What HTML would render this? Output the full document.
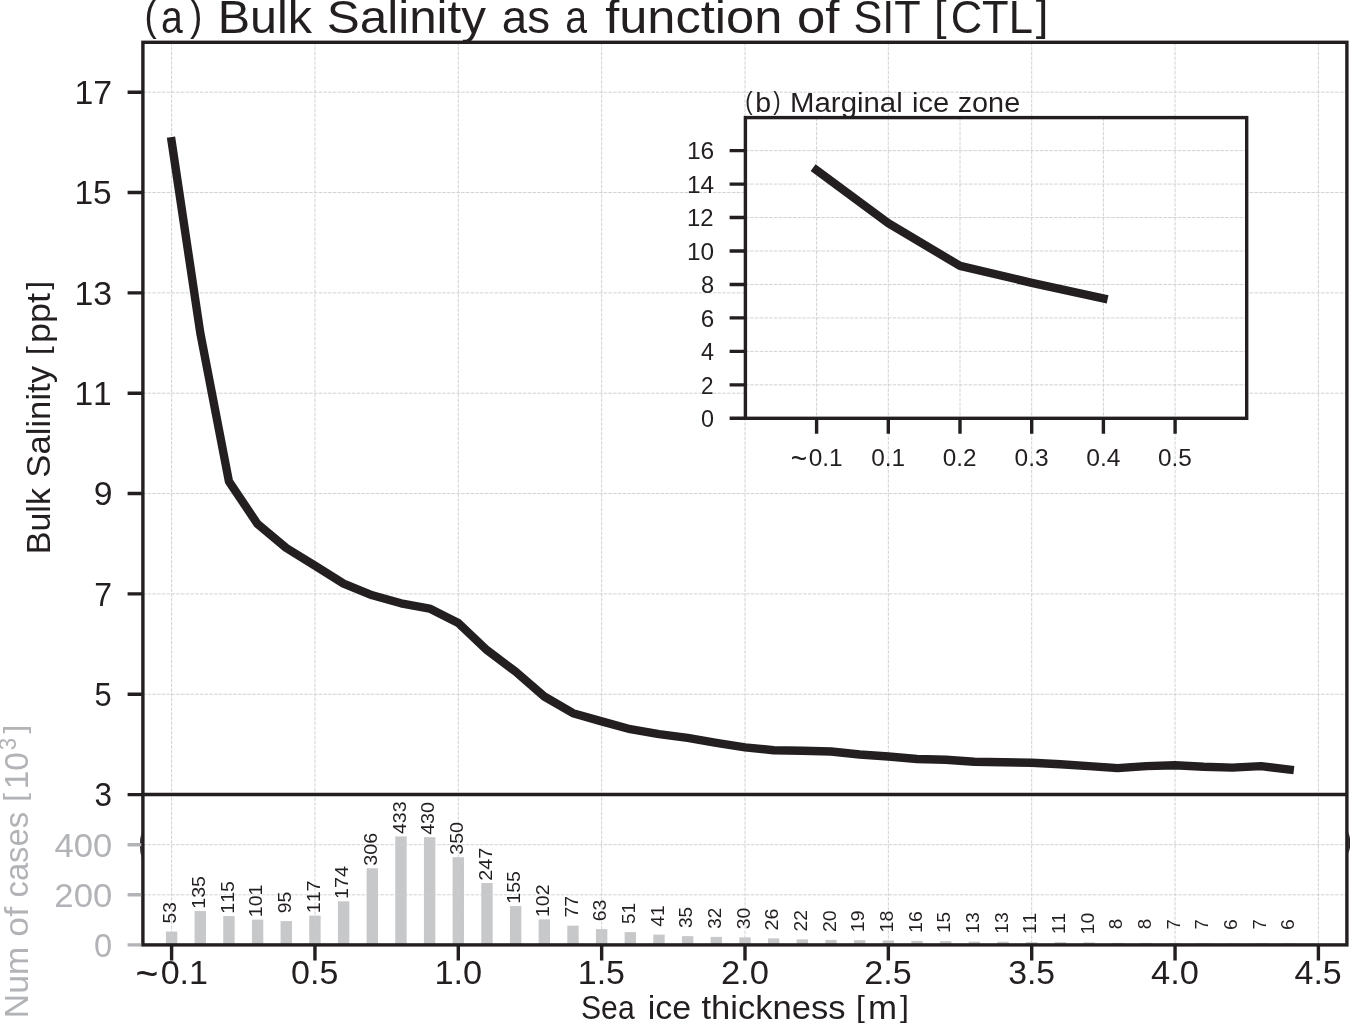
<!DOCTYPE html>
<html><head><meta charset="utf-8"><title>Bulk Salinity as a function of SIT</title>
<style>
html,body{margin:0;padding:0;background:#fff;}
body{width:1350px;height:1023px;overflow:hidden;font-family:"Liberation Sans",sans-serif;}
svg{display:block;will-change:transform;opacity:.999;}
svg text{font-family:"Liberation Sans",sans-serif;font-kerning:none;white-space:pre;}
</style></head><body>
<svg width="1350" height="1023" viewBox="0 0 1350 1023">
<rect x="0" y="0" width="1350" height="1023" fill="#fff"/>
<rect x="165.90" y="931.62" width="11.4" height="13.28" fill="#c7c8ca"/>
<rect x="194.57" y="911.08" width="11.4" height="33.82" fill="#c7c8ca"/>
<rect x="223.24" y="916.09" width="11.4" height="28.81" fill="#c7c8ca"/>
<rect x="251.91" y="919.60" width="11.4" height="25.30" fill="#c7c8ca"/>
<rect x="280.58" y="921.10" width="11.4" height="23.80" fill="#c7c8ca"/>
<rect x="309.25" y="915.59" width="11.4" height="29.31" fill="#c7c8ca"/>
<rect x="337.92" y="901.31" width="11.4" height="43.59" fill="#c7c8ca"/>
<rect x="366.59" y="868.25" width="11.4" height="76.65" fill="#c7c8ca"/>
<rect x="395.26" y="836.43" width="11.4" height="108.47" fill="#c7c8ca"/>
<rect x="423.93" y="837.18" width="11.4" height="107.72" fill="#c7c8ca"/>
<rect x="452.60" y="857.23" width="11.4" height="87.67" fill="#c7c8ca"/>
<rect x="481.27" y="883.03" width="11.4" height="61.87" fill="#c7c8ca"/>
<rect x="509.94" y="906.07" width="11.4" height="38.83" fill="#c7c8ca"/>
<rect x="538.61" y="919.35" width="11.4" height="25.55" fill="#c7c8ca"/>
<rect x="567.28" y="925.61" width="11.4" height="19.29" fill="#c7c8ca"/>
<rect x="595.95" y="929.12" width="11.4" height="15.78" fill="#c7c8ca"/>
<rect x="624.62" y="932.12" width="11.4" height="12.78" fill="#c7c8ca"/>
<rect x="653.29" y="934.63" width="11.4" height="10.27" fill="#c7c8ca"/>
<rect x="681.96" y="936.13" width="11.4" height="8.77" fill="#c7c8ca"/>
<rect x="710.63" y="936.88" width="11.4" height="8.02" fill="#c7c8ca"/>
<rect x="739.30" y="937.38" width="11.4" height="7.51" fill="#c7c8ca"/>
<rect x="767.97" y="938.39" width="11.4" height="6.51" fill="#c7c8ca"/>
<rect x="796.64" y="939.39" width="11.4" height="5.51" fill="#c7c8ca"/>
<rect x="825.31" y="939.89" width="11.4" height="5.01" fill="#c7c8ca"/>
<rect x="853.98" y="940.14" width="11.4" height="4.76" fill="#c7c8ca"/>
<rect x="882.65" y="940.39" width="11.4" height="4.51" fill="#c7c8ca"/>
<rect x="911.32" y="940.89" width="11.4" height="4.01" fill="#c7c8ca"/>
<rect x="939.99" y="941.14" width="11.4" height="3.76" fill="#c7c8ca"/>
<rect x="968.66" y="941.64" width="11.4" height="3.26" fill="#c7c8ca"/>
<rect x="997.33" y="941.64" width="11.4" height="3.26" fill="#c7c8ca"/>
<rect x="1026.00" y="942.14" width="11.4" height="2.76" fill="#c7c8ca"/>
<rect x="1054.67" y="942.14" width="11.4" height="2.76" fill="#c7c8ca"/>
<rect x="1083.34" y="942.39" width="11.4" height="2.50" fill="#c7c8ca"/>
<rect x="1112.01" y="942.90" width="11.4" height="2.00" fill="#c7c8ca"/>
<rect x="1140.68" y="942.90" width="11.4" height="2.00" fill="#c7c8ca"/>
<rect x="1169.35" y="943.15" width="11.4" height="1.75" fill="#c7c8ca"/>
<rect x="1198.02" y="943.15" width="11.4" height="1.75" fill="#c7c8ca"/>
<rect x="1226.69" y="943.40" width="11.4" height="1.50" fill="#c7c8ca"/>
<rect x="1255.36" y="943.15" width="11.4" height="1.75" fill="#c7c8ca"/>
<rect x="1284.03" y="943.40" width="11.4" height="1.50" fill="#c7c8ca"/>
<path d="M171.60 42.3 V944.9 M314.95 42.3 V944.9 M458.30 42.3 V944.9 M601.65 42.3 V944.9 M745.00 42.3 V944.9 M888.35 42.3 V944.9 M1031.70 42.3 V944.9 M1175.05 42.3 V944.9 M1318.40 42.3 V944.9 M142.9 92.20 H1346.9 M142.9 192.54 H1346.9 M142.9 292.88 H1346.9 M142.9 393.22 H1346.9 M142.9 493.56 H1346.9 M142.9 593.90 H1346.9 M142.9 694.24 H1346.9 M142.9 894.80 H1346.9 M142.9 844.70 H1346.9" stroke="#cccdd0" stroke-width="0.9" stroke-dasharray="3.5 1.25" fill="none"/>
<rect x="142.9" y="42.3" width="1204.0" height="902.6" fill="none" stroke="#231f20" stroke-width="3.4"/>
<path d="M142.9 794.5 H1346.9" stroke="#231f20" stroke-width="3.4" fill="none"/>
<path d="M141.6 832 Q138.2 845 141.6 858 Z" fill="#231f20"/>
<path d="M1348.2 832 Q1352.6 843 1348.2 853.5 Z" fill="#231f20"/>
<path d="M127.6 92.20 H142.9 M127.6 192.54 H142.9 M127.6 292.88 H142.9 M127.6 393.22 H142.9 M127.6 493.56 H142.9 M127.6 593.90 H142.9 M127.6 694.24 H142.9 M127.6 794.58 H142.9 M171.60 944.9 V960.4 M314.95 944.9 V960.4 M458.30 944.9 V960.4 M601.65 944.9 V960.4 M745.00 944.9 V960.4 M888.35 944.9 V960.4 M1031.70 944.9 V960.4 M1175.05 944.9 V960.4 M1318.40 944.9 V960.4" stroke="#231f20" stroke-width="3.4" fill="none"/>
<path d="M127.6 944.90 H141.20000000000002 M127.6 894.80 H141.20000000000002 M127.6 844.70 H141.20000000000002" stroke="#b1b3b6" stroke-width="3.4" fill="none"/>
<path d="M171.6 141.2 L200.3 333.0 L228.9 481.3 L257.6 524.1 L286.3 548.0 L314.9 565.6 L343.6 583.6 L372.3 595.3 L401.0 603.3 L429.6 608.6 L458.3 623.0 L487.0 650.2 L515.6 671.6 L544.3 696.5 L573.0 713.2 L601.7 721.4 L630.3 729.2 L659.0 734.1 L687.7 737.8 L716.3 742.9 L745.0 747.4 L773.7 750.2 L802.3 750.7 L831.0 751.5 L859.7 754.5 L888.4 756.5 L917.0 759.0 L945.7 759.8 L974.4 761.8 L1003.0 762.2 L1031.7 762.8 L1060.4 764.3 L1089.0 766.1 L1117.7 768.1 L1146.4 766.1 L1175.0 765.3 L1203.7 766.8 L1232.4 767.6 L1261.0 766.1 L1289.7 769.6" stroke="#231f20" stroke-width="8.4" stroke-linecap="square" stroke-linejoin="round" fill="none"/>
<rect x="745.4" y="117.6" width="501.30000000000007" height="300.70000000000005" fill="#fff"/>
<path d="M816.60 117.6 V418.3 M888.30 117.6 V418.3 M960.00 117.6 V418.3 M1031.70 117.6 V418.3 M1103.40 117.6 V418.3 M1175.10 117.6 V418.3 M745.4 384.84 H1246.7 M745.4 351.38 H1246.7 M745.4 317.92 H1246.7 M745.4 284.46 H1246.7 M745.4 251.00 H1246.7 M745.4 217.54 H1246.7 M745.4 184.08 H1246.7 M745.4 150.62 H1246.7" stroke="#cccdd0" stroke-width="0.9" stroke-dasharray="3.5 1.25" fill="none"/>
<rect x="745.4" y="117.6" width="501.30000000000007" height="300.70000000000005" fill="none" stroke="#231f20" stroke-width="3.4"/>
<path d="M729.6 418.30 H745.4 M729.6 384.84 H745.4 M729.6 351.38 H745.4 M729.6 317.92 H745.4 M729.6 284.46 H745.4 M729.6 251.00 H745.4 M729.6 217.54 H745.4 M729.6 184.08 H745.4 M729.6 150.62 H745.4 M816.60 418.3 V433.7 M888.30 418.3 V433.7 M960.00 418.3 V433.7 M1031.70 418.3 V433.7 M1103.40 418.3 V433.7 M1175.10 418.3 V433.7" stroke="#231f20" stroke-width="3.4" fill="none"/>
<path d="M816.5 170.2 L888.2 223.1 L960.0 265.9 L1031.8 282.8 L1103.5 298.4" stroke="#231f20" stroke-width="8.4" stroke-linecap="square" stroke-linejoin="round" fill="none"/>
<g><text transform="translate(144.42,30.12) scale(0.7975,0.9019)" font-size="46.17" fill="#231f20">(</text><text transform="translate(160.90,33.00) scale(0.8483,1.0000)" font-size="46.17" fill="#231f20">a</text><text transform="translate(189.92,30.12) scale(0.7975,0.9019)" font-size="46.17" fill="#231f20">)</text> <text transform="translate(217.78,33.00) scale(1.0501,1.0000)" font-size="46.17" fill="#231f20">Bulk</text> <text transform="translate(326.78,33.00) scale(1.0701,1.0000)" font-size="46.17" fill="#231f20">Salinity</text> <text transform="translate(501.79,33.00) scale(0.9891,1.0000)" font-size="46.17" fill="#231f20">as</text> <text transform="translate(565.30,33.00) scale(0.8483,1.0000)" font-size="46.17" fill="#231f20">a</text> <text transform="translate(605.17,33.00) scale(1.0960,1.0000)" font-size="46.17" fill="#231f20">function</text> <text transform="translate(796.94,33.00) scale(1.1030,1.0000)" font-size="46.17" fill="#231f20">of</text> <text transform="translate(853.42,33.00) scale(0.9372,1.0000)" font-size="46.17" fill="#231f20">SIT</text> <text transform="translate(933.97,30.10) scale(0.9828,0.9024)" font-size="46.17" fill="#231f20">[</text><text transform="translate(950.69,33.00) scale(0.9431,1.0000)" font-size="46.17" fill="#231f20">CTL</text><text transform="translate(1035.63,30.10) scale(0.9828,0.9024)" font-size="46.17" fill="#231f20">]</text></g>
<text transform="translate(74.38,104.00) scale(1.0308,1.0000)" font-size="32.86" fill="#231f20">17</text>
<text transform="translate(74.41,204.34) scale(1.0203,1.0000)" font-size="32.86" fill="#231f20">15</text>
<text transform="translate(74.38,304.68) scale(1.0293,1.0000)" font-size="32.86" fill="#231f20">13</text>
<text transform="translate(74.40,405.02) scale(1.0227,1.0000)" font-size="32.86" fill="#231f20">11</text>
<text transform="translate(93.65,505.36) scale(1.0272,1.0000)" font-size="32.86" fill="#231f20">9</text>
<text transform="translate(94.18,605.70) scale(0.9728,1.0000)" font-size="32.86" fill="#231f20">7</text>
<text transform="translate(94.43,706.04) scale(0.9385,1.0000)" font-size="32.86" fill="#231f20">5</text>
<text transform="translate(94.44,806.38) scale(0.9551,1.0000)" font-size="32.86" fill="#231f20">3</text>
<text transform="translate(94.04,957.20) scale(0.9945,1.0000)" font-size="32.86" fill="#b1b3b6">0</text>
<text transform="translate(54.35,907.10) scale(1.0569,1.0000)" font-size="32.86" fill="#b1b3b6">200</text>
<text transform="translate(54.55,857.00) scale(1.0532,1.0000)" font-size="32.86" fill="#b1b3b6">400</text>
<g><text transform="translate(135.48,988.47) scale(1.1951,1.3000)" font-size="32.86" fill="#231f20">~</text><text transform="translate(160.65,984.00) scale(1.0375,1.0000)" font-size="32.86" fill="#231f20">0.1</text></g>
<text transform="translate(291.01,984.00) scale(1.0356,1.0000)" font-size="32.86" fill="#231f20">0.5</text>
<text transform="translate(434.44,984.00) scale(1.0464,1.0000)" font-size="32.86" fill="#231f20">1.0</text>
<text transform="translate(577.82,984.00) scale(1.0332,1.0000)" font-size="32.86" fill="#231f20">1.5</text>
<text transform="translate(720.88,984.00) scale(1.0521,1.0000)" font-size="32.86" fill="#231f20">2.0</text>
<text transform="translate(864.25,984.00) scale(1.0392,1.0000)" font-size="32.86" fill="#231f20">2.5</text>
<text transform="translate(1008.13,984.00) scale(1.0274,1.0000)" font-size="32.86" fill="#231f20">3.5</text>
<text transform="translate(1151.12,984.00) scale(1.0478,1.0000)" font-size="32.86" fill="#231f20">4.0</text>
<text transform="translate(1294.48,984.00) scale(1.0352,1.0000)" font-size="32.86" fill="#231f20">4.5</text>
<g><text transform="translate(581.03,1018.80) scale(0.9283,1.0000)" font-size="32.47" fill="#231f20">Sea</text> <text transform="translate(647.80,1018.80) scale(1.0472,1.0000)" font-size="32.47" fill="#231f20">ice</text> <text transform="translate(701.43,1018.80) scale(1.0650,1.0000)" font-size="32.47" fill="#231f20">thickness</text> <text transform="translate(855.94,1016.76) scale(0.9828,0.9024)" font-size="32.47" fill="#231f20">[</text><text transform="translate(868.00,1018.80) scale(1.0749,1.0000)" font-size="32.47" fill="#231f20">m</text><text transform="translate(900.11,1016.76) scale(0.9828,0.9024)" font-size="32.47" fill="#231f20">]</text></g>
<g><text transform="translate(50.10,554.29) rotate(-90) scale(1.0501,1.0000)" font-size="32.43" fill="#231f20">Bulk</text> <text transform="translate(50.10,477.74) rotate(-90) scale(1.0701,1.0000)" font-size="32.43" fill="#231f20">Salinity</text> <text transform="translate(48.06,354.93) rotate(-90) scale(0.9828,0.9024)" font-size="32.43" fill="#231f20">[</text><text transform="translate(50.10,342.88) rotate(-90) scale(1.1069,1.0000)" font-size="32.43" fill="#231f20">ppt</text><text transform="translate(48.06,289.78) rotate(-90) scale(0.9828,0.9024)" font-size="32.43" fill="#231f20">]</text></g>
<g><text transform="translate(27.50,1018.17) rotate(-90) scale(1.0440,1.0000)" font-size="32.34" fill="#b1b3b6">Num</text> <text transform="translate(27.50,936.64) rotate(-90) scale(1.1030,1.0000)" font-size="32.34" fill="#b1b3b6">of</text> <text transform="translate(27.50,897.43) rotate(-90) scale(1.0112,1.0000)" font-size="32.34" fill="#b1b3b6">cases</text> <text transform="translate(25.47,801.64) rotate(-90) scale(0.9828,0.9024)" font-size="32.34" fill="#b1b3b6">[</text><text transform="translate(27.50,789.30) rotate(-90) scale(1.0372,1.0000)" font-size="32.34" fill="#b1b3b6">10</text><text transform="translate(15.80,750.14) rotate(-90) scale(0.9540,1.0000)" font-size="23.21" fill="#b1b3b6">3</text><text transform="translate(25.47,733.55) rotate(-90) scale(0.9806,0.9024)" font-size="32.33" fill="#b1b3b6">]</text></g>
<text transform="translate(176.30,923.49) rotate(-90) scale(1.0231,1.0000)" font-size="18.76" fill="#231f20">53</text>
<text transform="translate(204.97,908.72) rotate(-90) scale(1.0415,1.0000)" font-size="18.76" fill="#231f20">135</text>
<text transform="translate(233.64,913.73) rotate(-90) scale(1.0415,1.0000)" font-size="18.76" fill="#231f20">115</text>
<text transform="translate(262.31,917.24) rotate(-90) scale(1.0431,1.0000)" font-size="18.76" fill="#231f20">101</text>
<text transform="translate(290.98,913.36) rotate(-90) scale(1.0343,1.0000)" font-size="18.76" fill="#231f20">95</text>
<text transform="translate(319.65,913.24) rotate(-90) scale(1.0483,1.0000)" font-size="18.76" fill="#231f20">117</text>
<text transform="translate(348.32,898.96) rotate(-90) scale(1.0519,1.0000)" font-size="18.76" fill="#231f20">174</text>
<text transform="translate(376.99,865.74) rotate(-90) scale(1.0523,1.0000)" font-size="18.76" fill="#231f20">306</text>
<text transform="translate(405.66,834.11) rotate(-90) scale(1.0484,1.0000)" font-size="18.76" fill="#231f20">433</text>
<text transform="translate(434.33,834.87) rotate(-90) scale(1.0532,1.0000)" font-size="18.76" fill="#231f20">430</text>
<text transform="translate(463.00,854.72) rotate(-90) scale(1.0470,1.0000)" font-size="18.76" fill="#231f20">350</text>
<text transform="translate(491.67,880.82) rotate(-90) scale(1.0530,1.0000)" font-size="18.76" fill="#231f20">247</text>
<text transform="translate(520.34,903.71) rotate(-90) scale(1.0415,1.0000)" font-size="18.76" fill="#231f20">155</text>
<text transform="translate(549.01,916.98) rotate(-90) scale(1.0393,1.0000)" font-size="18.76" fill="#231f20">102</text>
<text transform="translate(577.68,917.61) rotate(-90) scale(1.0314,1.0000)" font-size="18.76" fill="#231f20">77</text>
<text transform="translate(606.35,921.34) rotate(-90) scale(1.0407,1.0000)" font-size="18.76" fill="#231f20">63</text>
<text transform="translate(635.02,923.98) rotate(-90) scale(1.0168,1.0000)" font-size="18.76" fill="#231f20">51</text>
<text transform="translate(663.69,926.67) rotate(-90) scale(1.0257,1.0000)" font-size="18.76" fill="#231f20">41</text>
<text transform="translate(692.36,927.97) rotate(-90) scale(1.0135,1.0000)" font-size="18.76" fill="#231f20">35</text>
<text transform="translate(721.03,928.72) rotate(-90) scale(1.0100,1.0000)" font-size="18.76" fill="#231f20">32</text>
<text transform="translate(749.70,929.23) rotate(-90) scale(1.0297,1.0000)" font-size="18.76" fill="#231f20">30</text>
<text transform="translate(778.37,930.55) rotate(-90) scale(1.0529,1.0000)" font-size="18.76" fill="#231f20">26</text>
<text transform="translate(807.04,931.52) rotate(-90) scale(1.0249,1.0000)" font-size="18.76" fill="#231f20">22</text>
<text transform="translate(835.71,932.04) rotate(-90) scale(1.0447,1.0000)" font-size="18.76" fill="#231f20">20</text>
<text transform="translate(864.38,932.15) rotate(-90) scale(1.0422,1.0000)" font-size="18.76" fill="#231f20">19</text>
<text transform="translate(893.05,932.39) rotate(-90) scale(1.0399,1.0000)" font-size="18.76" fill="#231f20">18</text>
<text transform="translate(921.72,932.90) rotate(-90) scale(1.0455,1.0000)" font-size="18.76" fill="#231f20">16</text>
<text transform="translate(950.39,933.12) rotate(-90) scale(1.0203,1.0000)" font-size="18.76" fill="#231f20">15</text>
<text transform="translate(979.06,933.63) rotate(-90) scale(1.0293,1.0000)" font-size="18.76" fill="#231f20">13</text>
<text transform="translate(1007.73,933.63) rotate(-90) scale(1.0293,1.0000)" font-size="18.76" fill="#231f20">13</text>
<text transform="translate(1036.40,934.12) rotate(-90) scale(1.0227,1.0000)" font-size="18.76" fill="#231f20">11</text>
<text transform="translate(1065.07,934.12) rotate(-90) scale(1.0227,1.0000)" font-size="18.76" fill="#231f20">11</text>
<text transform="translate(1093.74,934.39) rotate(-90) scale(1.0372,1.0000)" font-size="18.76" fill="#231f20">10</text>
<text transform="translate(1122.41,929.34) rotate(-90) scale(1.0052,1.0000)" font-size="18.76" fill="#231f20">8</text>
<text transform="translate(1151.08,929.34) rotate(-90) scale(1.0052,1.0000)" font-size="18.76" fill="#231f20">8</text>
<text transform="translate(1179.75,929.46) rotate(-90) scale(0.9728,1.0000)" font-size="18.76" fill="#231f20">7</text>
<text transform="translate(1208.42,929.46) rotate(-90) scale(0.9728,1.0000)" font-size="18.76" fill="#231f20">7</text>
<text transform="translate(1237.09,929.97) rotate(-90) scale(1.0293,1.0000)" font-size="18.76" fill="#231f20">6</text>
<text transform="translate(1265.76,929.46) rotate(-90) scale(0.9728,1.0000)" font-size="18.76" fill="#231f20">7</text>
<text transform="translate(1294.43,929.97) rotate(-90) scale(1.0293,1.0000)" font-size="18.76" fill="#231f20">6</text>
<g><text transform="translate(745.33,110.07) scale(0.7975,0.9019)" font-size="27.79" fill="#231f20">(</text><text transform="translate(755.22,111.80) scale(1.0264,1.0000)" font-size="27.79" fill="#231f20">b</text><text transform="translate(773.29,110.07) scale(0.7975,0.9019)" font-size="27.79" fill="#231f20">)</text> <text transform="translate(790.04,111.80) scale(1.0575,1.0000)" font-size="27.79" fill="#231f20">Marginal</text> <text transform="translate(912.10,111.80) scale(1.0472,1.0000)" font-size="27.79" fill="#231f20">ice</text> <text transform="translate(957.70,111.80) scale(1.0367,1.0000)" font-size="27.79" fill="#231f20">zone</text></g>
<text transform="translate(701.02,427.00) scale(0.9945,1.0000)" font-size="23.53" fill="#231f20">0</text>
<text transform="translate(700.97,393.54) scale(0.9586,1.0000)" font-size="23.53" fill="#231f20">2</text>
<text transform="translate(701.02,360.08) scale(0.9946,1.0000)" font-size="23.53" fill="#231f20">4</text>
<text transform="translate(700.80,326.62) scale(1.0293,1.0000)" font-size="23.53" fill="#231f20">6</text>
<text transform="translate(700.95,293.16) scale(1.0052,1.0000)" font-size="23.53" fill="#231f20">8</text>
<text transform="translate(686.93,259.70) scale(1.0372,1.0000)" font-size="23.53" fill="#231f20">10</text>
<text transform="translate(686.97,226.24) scale(1.0168,1.0000)" font-size="23.53" fill="#231f20">12</text>
<text transform="translate(686.93,192.78) scale(1.0367,1.0000)" font-size="23.53" fill="#231f20">14</text>
<text transform="translate(686.92,159.32) scale(1.0455,1.0000)" font-size="23.53" fill="#231f20">16</text>
<g><text transform="translate(790.74,468.90) scale(1.1951,1.3000)" font-size="23.53" fill="#231f20">~</text><text transform="translate(808.76,465.70) scale(1.0375,1.0000)" font-size="23.53" fill="#231f20">0.1</text></g>
<text transform="translate(871.16,465.70) scale(1.0375,1.0000)" font-size="23.53" fill="#231f20">0.1</text>
<text transform="translate(942.86,465.70) scale(1.0330,1.0000)" font-size="23.53" fill="#231f20">0.2</text>
<text transform="translate(1014.55,465.70) scale(1.0424,1.0000)" font-size="23.53" fill="#231f20">0.3</text>
<text transform="translate(1086.25,465.70) scale(1.0479,1.0000)" font-size="23.53" fill="#231f20">0.4</text>
<text transform="translate(1157.96,465.70) scale(1.0356,1.0000)" font-size="23.53" fill="#231f20">0.5</text>
</svg>
</body></html>
